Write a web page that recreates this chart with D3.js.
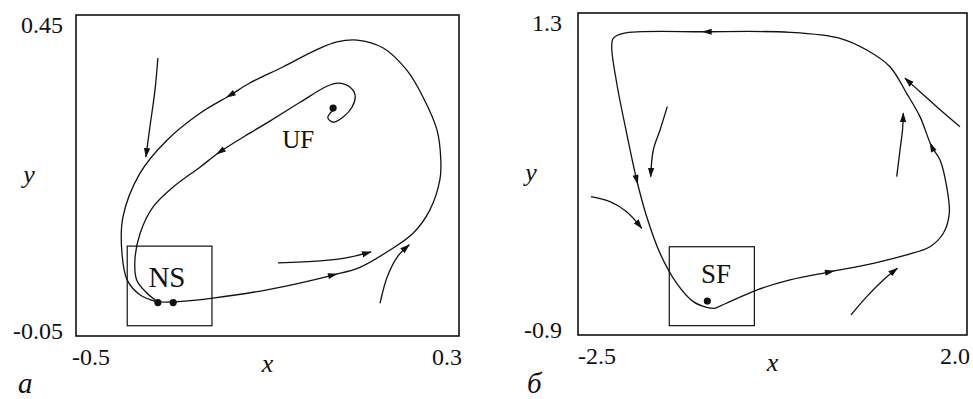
<!DOCTYPE html>
<html>
<head>
<meta charset="utf-8">
<script src="https://cdn.jsdelivr.net/npm/d3@7"></script>
</head>
<body style="margin:0">
<script>
// ---- panel a: x in [-0.5, 0.3], y in [-0.05, 0.45]
const xTicksA = [-0.5, 0.3];
const yTicksA = [-0.05, 0.45];
const tickTextA = { x: ["-0.5", "0.3"], y: ["-0.05", "0.45"] };

// limit cycle through the saddle-node (NS)
const orbitA = [
  [-0.329, 0.003], [-0.295, 0.003], [-0.214, 0.009], [-0.101, 0.022],
  [0.037, 0.045], [0.093, 0.057], [0.156, 0.084], [0.204, 0.110],
  [0.239, 0.146], [0.260, 0.193], [0.262, 0.224], [0.254, 0.271],
  [0.225, 0.322], [0.191, 0.364], [0.141, 0.399], [0.087, 0.411],
  [0.045, 0.408], [0.003, 0.396], [-0.068, 0.369], [-0.137, 0.344],
  [-0.178, 0.325], [-0.241, 0.297], [-0.310, 0.255], [-0.366, 0.204],
  [-0.402, 0.135], [-0.404, 0.079], [-0.393, 0.037], [-0.366, 0.014],
  [-0.329, 0.003]
];
const orbitArrowsA = [4, 20];

// trajectory leaving the unstable focus (UF)
const spiralA = [
  [0.037, 0.302], [0.026, 0.290], [0.037, 0.283], [0.058, 0.291],
  [0.077, 0.307], [0.083, 0.325], [0.072, 0.338], [0.047, 0.344],
  [0.024, 0.339], [-0.032, 0.314], [-0.101, 0.282], [-0.137, 0.266],
  [-0.199, 0.237], [-0.241, 0.213], [-0.297, 0.182], [-0.339, 0.151],
  [-0.366, 0.110], [-0.377, 0.068], [-0.373, 0.037], [-0.352, 0.017],
  [-0.329, 0.003]
];
const spiralArrowsA = [12];

// short flow arrows
const flowsA = [
  [[-0.329, 0.383], [-0.335, 0.333], [-0.345, 0.279], [-0.354, 0.229]],
  [[-0.078, 0.064], [0.010, 0.067], [0.072, 0.073], [0.116, 0.081]],
  [[0.135, 0.001], [0.150, 0.042], [0.171, 0.073], [0.196, 0.092]]
];

const nodesA = [[-0.329, 0.002], [-0.297, 0.002], [0.037, 0.305]];
const boxA = [[-0.393, -0.034], [-0.216, 0.090]];

// ---- panel б: x in [-2.5, 2.0], y in [-0.9, 1.3]
const xTicksB = [-2.5, 2.0];
const yTicksB = [-0.9, 1.3];
const tickTextB = { x: ["-2.5", "2.0"], y: ["-0.9", "1.3"] };

const orbitB = [
  [-0.915, -0.718], [-0.742, -0.672], [-0.433, -0.593], [-0.048, -0.524],
  [0.415, -0.468], [0.916, -0.410], [1.302, -0.353], [1.572, -0.297],
  [1.726, -0.205], [1.795, -0.069], [1.765, 0.113], [1.688, 0.296],
  [1.592, 0.387], [1.456, 0.592], [1.302, 0.751], [1.109, 0.933],
  [0.840, 1.047], [0.531, 1.127], [-0.048, 1.168], [-1.011, 1.172],
  [-1.976, 1.161], [-2.092, 1.127], [-2.110, 1.070], [-2.052, 0.820],
  [-1.937, 0.478], [-1.821, 0.159], [-1.705, -0.092], [-1.551, -0.342],
  [-1.358, -0.547], [-1.166, -0.672], [-1.011, -0.711], [-0.915, -0.718]
];
const orbitArrowsB = [4, 12, 19, 25];

const flowsB = [
  [[1.919, 0.523], [1.649, 0.660], [1.456, 0.762], [1.283, 0.854]],
  [[1.187, 0.182], [1.225, 0.364], [1.254, 0.501], [1.263, 0.615]],
  [[0.658, -0.763], [0.840, -0.638], [1.032, -0.524], [1.194, -0.444]],
  [[-1.467, 0.660], [-1.551, 0.501], [-1.629, 0.364], [-1.659, 0.182]],
  [[-2.350, 0.045], [-2.130, 0.011], [-1.937, -0.058], [-1.763, -0.171]]
];

const nodesB = [[-1.004, -0.668]];
const boxB = [[-1.444, -0.836], [-0.460, -0.297]];

const W = 973, H = 399;
const ink = "#111";

const svg = d3.select("body").append("svg")
  .attr("width", W)
  .attr("height", H);

svg.append("defs").append("marker")
  .attr("id", "head")
  .attr("viewBox", "0 -5 10 10")
  .attr("refX", 9)
  .attr("refY", 0)
  .attr("markerUnits", "userSpaceOnUse")
  .attr("markerWidth", 10)
  .attr("markerHeight", 10)
  .attr("orient", "auto")
  .append("path")
  .attr("d", "M0,-3.2L10,0L0,3.2Z")
  .attr("fill", ink);

function label(g, txt, size, italic) {
  const t = g.append("text")
    .attr("font-size", size)
    .attr("font-family", "Liberation Serif")
    .style("font-family", '"Liberation Serif"')
    .attr("fill", ink);
  if (italic) t.attr("font-style", "italic");
  return t.text(txt);
}

function drawPanel(p) {
  const x = d3.scaleLinear().domain(p.xTicks).range([p.left, p.right]);
  const y = d3.scaleLinear().domain(p.yTicks).range([p.bottom, p.top]);
  const g = svg.append("g");

  const line = d3.line()
    .x(d => x(d[0]))
    .y(d => y(d[1]))
    .curve(d3.curveCatmullRom.alpha(0.5));

  // frame
  g.append("rect")
    .attr("x", p.left).attr("y", p.top)
    .attr("width", p.right - p.left).attr("height", p.bottom - p.top)
    .attr("fill", "none").attr("stroke", ink).attr("stroke-width", 1.6);

  // small box round the equilibrium
  g.append("rect")
    .attr("x", x(p.box[0][0])).attr("y", y(p.box[1][1]))
    .attr("width", x(p.box[1][0]) - x(p.box[0][0]))
    .attr("height", y(p.box[0][1]) - y(p.box[1][1]))
    .attr("fill", "none").attr("stroke", ink).attr("stroke-width", 1.2);

  // trajectories with arrows along them
  p.curves.forEach(c => {
    g.append("path")
      .attr("d", line(c.pts))
      .attr("fill", "none").attr("stroke", ink).attr("stroke-width", 1.3);
    c.arrows.forEach(i => {
      const a = c.pts[i - 1], b = c.pts[i + 1], m = c.pts[i];
      const ang = Math.atan2(y(b[1]) - y(a[1]), x(b[0]) - x(a[0])) * 180 / Math.PI;
      g.append("path")
        .attr("d", "M-5,-3L5,0L-5,3Z")
        .attr("transform", `translate(${x(m[0])},${y(m[1])}) rotate(${ang})`)
        .attr("fill", ink);
    });
  });

  // free flow arrows
  g.selectAll(".flow")
    .data(p.flows)
    .join("path")
    .attr("class", "flow")
    .attr("d", d => line(d))
    .attr("fill", "none").attr("stroke", ink).attr("stroke-width", 1.3)
    .attr("marker-end", "url(#head)");

  // equilibria
  g.selectAll(".node")
    .data(p.nodes)
    .join("circle")
    .attr("class", "node")
    .attr("cx", d => x(d[0])).attr("cy", d => y(d[1]))
    .attr("r", 3.6).attr("fill", ink);

  // equilibrium labels
  p.labels.forEach(l => {
    label(g, l.text, l.size, false)
      .attr("x", x(l.at[0])).attr("y", y(l.at[1]))
      .attr("text-anchor", "middle");
  });

  // end tick labels
  p.xTicks.forEach((d, i) => {
    label(g, p.tickText.x[i], 24, false)
      .attr("x", i === 0 ? x(d) - p.xPad : x(d) + 3)
      .attr("y", p.bottom + 29)
      .attr("text-anchor", i === 0 ? "start" : "end");
  });
  p.yTicks.forEach((d, i) => {
    label(g, p.tickText.y[i], 24, false)
      .attr("x", p.left - p.yPad)
      .attr("y", i === 0 ? y(d) + 3 : y(d) + 18)
      .attr("text-anchor", "end");
  });

  // axis names and panel letter
  label(g, "x", 26, true)
    .attr("x", (p.left + p.right) / 2).attr("y", p.bottom + 36)
    .attr("text-anchor", "middle");
  label(g, "y", 26, true)
    .attr("x", p.left - 47).attr("y", (p.top + p.bottom) / 2 + 7)
    .attr("text-anchor", "middle");
  label(g, p.letter, 29, true)
    .attr("x", p.left - p.letterPad).attr("y", H - 6);
}

drawPanel({
  left: 76, right: 459, top: 15, bottom: 336,
  xTicks: xTicksA, yTicks: yTicksA, tickText: tickTextA,
  xPad: 4, yPad: 13, letterPad: 58,
  curves: [{ pts: orbitA, arrows: orbitArrowsA }, { pts: spiralA, arrows: spiralArrowsA }],
  flows: flowsA,
  nodes: nodesA,
  box: boxA,
  labels: [
    { text: "NS", at: [-0.310, 0.026], size: 29 },
    { text: "UF", at: [-0.036, 0.243], size: 25 }
  ],
  letter: "a"
});

drawPanel({
  left: 578, right: 967, top: 13, bottom: 335,
  xTicks: xTicksB, yTicks: yTicksB, tickText: tickTextB,
  xPad: 0, yPad: 16, letterPad: 51,
  curves: [{ pts: orbitB, arrows: orbitArrowsB }],
  flows: flowsB,
  nodes: nodesB,
  box: boxB,
  labels: [
    { text: "SF", at: [-0.904, -0.547], size: 27 }
  ],
  letter: "б"
});
</script>
</body>
</html>
